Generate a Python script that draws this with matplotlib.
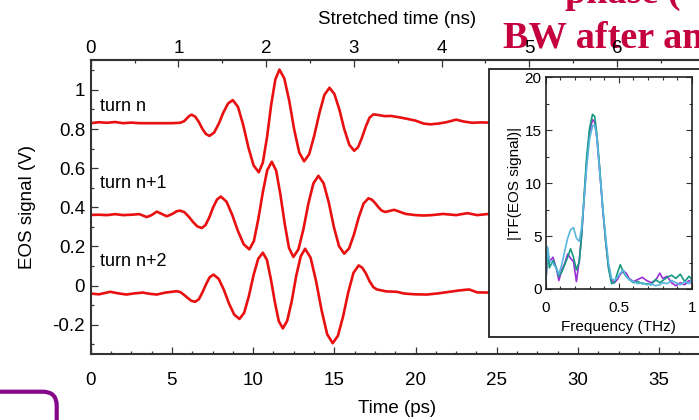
import numpy as np
import matplotlib.pyplot as plt
from matplotlib.patches import Rectangle, FancyBboxPatch
from matplotlib.ticker import MultipleLocator
from matplotlib.transforms import IdentityTransform

plt.rcParams['font.family'] = ['Liberation Sans', 'DejaVu Sans']

# EOS traces for three consecutive turns: time (ps) and signal (V)
t_turn_n = [0, 0.5, 1.0, 1.5, 2.0, 2.5, 3.0, 3.5, 4.0, 4.5, 5.0, 5.5, 5.75, 5.95, 6.1, 6.22,
            6.44, 6.66, 6.87, 7.09, 7.31, 7.60, 7.89, 8.17, 8.46, 8.75, 9.07, 9.39, 9.71,
            10.03, 10.35, 10.60, 10.86, 11.11, 11.37, 11.62, 11.92, 12.23, 12.53, 12.84,
            13.14, 13.45, 13.76, 14.08, 14.39, 14.70, 15.0, 15.31, 15.61, 15.92, 16.22, 16.46,
            16.69, 16.93, 17.16, 17.4, 17.7, 18.1, 18.5, 19.0, 19.5, 20.0, 20.5, 20.9, 21.4,
            21.9, 22.5, 23.0, 23.5, 24.0, 24.5, 25.0, 25.5]
v_turn_n = [0.83, 0.835, 0.832, 0.836, 0.83, 0.833, 0.83, 0.83, 0.83, 0.83, 0.83, 0.832,
            0.84, 0.857, 0.869, 0.873, 0.863, 0.836, 0.802, 0.775, 0.765, 0.782, 0.828, 0.885,
            0.931, 0.948, 0.913, 0.821, 0.706, 0.614, 0.579, 0.629, 0.76, 0.923, 1.054, 1.104,
            1.059, 0.942, 0.797, 0.68, 0.635, 0.671, 0.765, 0.881, 0.975, 1.011, 0.98, 0.9,
            0.8, 0.72, 0.689, 0.707, 0.753, 0.811, 0.857, 0.875, 0.872, 0.866, 0.867, 0.86,
            0.852, 0.843, 0.828, 0.824, 0.828, 0.835, 0.848, 0.838, 0.832, 0.834, 0.833,
            0.83, 0.83]

t_turn_n1 = [0, 0.5, 1.0, 1.5, 2.0, 2.5, 3.0, 3.45, 3.75, 4.07, 4.4, 4.68, 5.0, 5.3, 5.5,
             5.77, 6.04, 6.30, 6.57, 6.84, 7.07, 7.31, 7.54, 7.78, 8.01, 8.36, 8.71, 9.07,
             9.42, 9.77, 10.05, 10.32, 10.6, 10.87, 11.15, 11.42, 11.68, 11.95, 12.21, 12.48,
             12.79, 13.10, 13.40, 13.71, 14.02, 14.34, 14.66, 14.97, 15.29, 15.61, 15.91,
             16.21, 16.50, 16.80, 17.1, 17.31, 17.51, 17.72, 17.92, 18.13, 18.69, 19.4, 20.0,
             20.5, 21.0, 21.7, 22.5, 23.2, 23.8, 24.5, 25.0, 25.5]
v_turn_n1 = [0.361, 0.362, 0.36, 0.365, 0.36, 0.362, 0.365, 0.35, 0.36, 0.378, 0.365, 0.354,
             0.365, 0.38, 0.383, 0.375, 0.352, 0.325, 0.302, 0.294, 0.309, 0.35, 0.4, 0.44,
             0.455, 0.429, 0.362, 0.278, 0.211, 0.185, 0.228, 0.34, 0.478, 0.59, 0.633, 0.587,
             0.465, 0.314, 0.192, 0.146, 0.185, 0.289, 0.418, 0.522, 0.561, 0.523, 0.424, 0.3,
             0.201, 0.163, 0.19, 0.261, 0.348, 0.419, 0.446, 0.439, 0.422, 0.4, 0.383, 0.376,
             0.387, 0.366, 0.36, 0.358, 0.36, 0.366, 0.36, 0.37, 0.36, 0.366, 0.363, 0.363]

t_turn_n2 = [0, 0.5, 1.2, 1.7, 2.2, 2.7, 3.2, 3.6, 4.07, 4.6, 5.3, 5.53, 5.75, 5.98, 6.2,
             6.43, 6.66, 6.88, 7.11, 7.33, 7.56, 7.88, 8.2, 8.52, 8.84, 9.16, 9.45, 9.74,
             10.02, 10.31, 10.6, 10.85, 11.09, 11.34, 11.58, 11.83, 12.10, 12.38, 12.65, 12.93,
             13.2, 13.54, 13.88, 14.22, 14.56, 14.9, 15.22, 15.54, 15.86, 16.18, 16.5, 16.72,
             16.95, 17.17, 17.4, 17.62, 18.2, 18.85, 19.3, 20.0, 20.7, 21.4, 22.1, 22.7, 23.3,
             23.8, 24.5, 25.0, 25.5]
v_turn_n2 = [-0.041, -0.045, -0.032, -0.04, -0.046, -0.04, -0.036, -0.042, -0.046, -0.036,
             -0.029, -0.034, -0.048, -0.064, -0.078, -0.083, -0.07, -0.035, 0.008, 0.043,
             0.056, 0.034, -0.022, -0.093, -0.149, -0.171, -0.139, -0.054, 0.051, 0.136,
             0.168, 0.131, 0.034, -0.085, -0.182, -0.219, -0.18, -0.079, 0.048, 0.149, 0.188,
             0.142, 0.021, -0.128, -0.249, -0.295, -0.257, -0.158, -0.034, 0.065, 0.103,
             0.091, 0.061, 0.022, -0.008, -0.02, -0.03, -0.032, -0.041, -0.045, -0.046,
             -0.04, -0.032, -0.025, -0.02, -0.035, -0.036, -0.033, -0.033]

turn_labels = ['turn n', 'turn n+1', 'turn n+2']
label_y = [0.916, 0.524, 0.122]

# spectrum magnitude of each trace, frequency in THz
freq = [0, 0.0125, 0.025, 0.05, 0.075, 0.09, 0.11, 0.13, 0.15, 0.17, 0.19, 0.21, 0.23, 0.245,
        0.26, 0.28, 0.3, 0.32, 0.335, 0.35, 0.37, 0.39, 0.41, 0.43, 0.45, 0.47, 0.49, 0.51,
        0.53, 0.55, 0.57, 0.6, 0.63, 0.66, 0.69, 0.72, 0.75, 0.78, 0.8, 0.83, 0.86, 0.89,
        0.92, 0.95, 0.98, 1.0]
tf_purple = [0.3, 3.5, 2.6, 3.0, 1.8, 0.8, 1.8, 2.4, 3.3, 2.9, 2.6, 0.7, 2.8, 5.0, 8.0, 12.0,
             14.8, 16.0, 15.8, 14.2, 11.0, 7.5, 4.5, 2.0, 0.8, 0.6, 0.9, 1.4, 1.7, 1.5, 1.0, 0.7,
             0.9, 1.1, 0.8, 0.6, 0.8, 1.5, 1.0, 1.2, 0.6, 0.3, 0.6, 0.4, 0.8, 0.5]
tf_green = [0.3, 3.8, 2.0, 2.7, 1.9, 1.2, 1.6, 2.3, 3.0, 3.8, 3.0, 1.8, 2.6, 5.0, 8.3, 12.5,
            15.2, 16.5, 16.3, 14.6, 11.3, 7.7, 4.5, 1.9, 0.5, 0.6, 1.5, 2.3, 1.6, 1.2, 0.9, 0.6,
            0.7, 0.5, 0.5, 0.4, 0.9, 0.6, 0.8, 1.1, 1.3, 1.0, 1.4, 0.7, 1.2, 0.9]
tf_blue = [0.3, 4.0, 2.7, 2.4, 1.9, 1.4, 2.3, 3.6, 4.8, 5.6, 5.8, 4.8, 4.5, 5.8, 8.0, 11.5,
           14.2, 15.4, 15.5, 14.3, 11.0, 7.7, 4.9, 2.4, 1.0, 0.8, 1.1, 1.5, 1.8, 1.2, 0.9, 0.7,
           0.5, 0.6, 0.4, 0.5, 0.3, 0.4, 0.6, 0.5, 0.8, 0.6, 0.4, 0.7, 0.5, 1.0]

PS_PER_NS = 5.4
red = '#e81010'
spine_col = '#333333'

fig = plt.figure(figsize=(6.99, 4.2), dpi=100)

# slide title behind the plot
title_col = '#c4003f'
serif = ['Liberation Serif', 'DejaVu Serif']
fig.text(565 / 699, 1 - 3 / 420, 'phase (', fontsize=27.5, fontweight='bold', family=serif,
         color=title_col, ha='left', va='baseline', zorder=-1)
fig.text(503 / 699, 1 - 47 / 420, 'BW after an', fontsize=27.5, fontweight='bold', family=serif,
         color=title_col, ha='left', va='baseline', zorder=-1)

ax = fig.add_axes([90.7 / 699, 1 - 354 / 420, (703 - 90.7) / 699, 294 / 420])
for t, v in [(t_turn_n, v_turn_n), (t_turn_n1, v_turn_n1), (t_turn_n2, v_turn_n2)]:
    ax.plot(t, v, color=red, lw=1.9, solid_joinstyle='round')
for lab, y in zip(turn_labels, label_y):
    ax.text(0.57, y, lab, fontsize=13, ha='left', va='center')

ax.set_xlim(0, 37.7)
ax.set_ylim(-0.35, 1.153)
ax.xaxis.set_major_locator(MultipleLocator(5))
ax.xaxis.set_minor_locator(MultipleLocator(1.25))
ax.yaxis.set_minor_locator(MultipleLocator(0.1))
ax.set_yticks([-0.2, 0, 0.2, 0.4, 0.6, 0.8, 1.0])
ax.set_yticklabels(['-0.2', '0', '0.2', '0.4', '0.6', '0.8', '1'])
ax.tick_params(which='both', direction='in', labelsize=13.5, width=0.9, color=spine_col)
ax.tick_params(which='major', length=5)
ax.tick_params(which='minor', length=2.5)
ax.tick_params(axis='x', pad=13)
ax.tick_params(axis='y', pad=4)
for s in ax.spines.values():
    s.set_linewidth(1.5)
    s.set_color(spine_col)
ax.set_xlabel('Time (ps)', fontsize=13.5, labelpad=8)
ax.set_ylabel('EOS signal (V)', fontsize=13.5, labelpad=12)

# stretched time scale on top
top = ax.secondary_xaxis('top', functions=(lambda x: x / PS_PER_NS, lambda x: x * PS_PER_NS))
top.xaxis.set_major_locator(MultipleLocator(1))
top.xaxis.set_minor_locator(MultipleLocator(0.5))
top.tick_params(which='both', direction='in', labelsize=13.5, width=0.9, color=spine_col, pad=2)
top.tick_params(which='major', length=5)
top.tick_params(which='minor', length=2.5)
top.spines['top'].set_linewidth(1.5)
top.spines['top'].set_color(spine_col)
top.set_xlabel('Stretched time (ns)', fontsize=13.5, labelpad=12)

# framed inset with the spectra
fig.patches.append(Rectangle((489 / 699, 1 - 337 / 420), 0.4, (337 - 69) / 420,
                             transform=fig.transFigure, facecolor='white',
                             edgecolor='#222222', lw=1.3, zorder=1))
ins = fig.add_axes([545.7 / 699, 1 - 289 / 420, (692 - 545.7) / 699, (289 - 77.3) / 420])
ins.set_zorder(2)
ins.plot(freq, tf_purple, color='#9b2fd6', lw=1.2)
ins.plot(freq, tf_green, color='#159a80', lw=1.2)
ins.plot(freq, tf_blue, color='#58b6e0', lw=1.2)
ins.set_xlim(0, 1)
ins.set_ylim(0, 20)
ins.xaxis.set_minor_locator(MultipleLocator(0.1))
ins.yaxis.set_major_locator(MultipleLocator(5))
ins.yaxis.set_minor_locator(MultipleLocator(2.5))
ins.set_xticks([0, 0.5, 1])
ins.set_xticklabels(['0', '0.5', '1'])
ins.tick_params(which='both', direction='in', top=True, right=True, labelsize=11,
                width=0.8, color=spine_col)
ins.tick_params(which='major', length=4)
ins.tick_params(which='minor', length=2)
ins.tick_params(axis='x', pad=9)
ins.tick_params(axis='y', pad=3)
for s in ins.spines.values():
    s.set_linewidth(1.2)
    s.set_color('#222222')
ins.set_xlabel('Frequency (THz)', fontsize=11, labelpad=3)
ins.set_ylabel('|TF(EOS signal)|', fontsize=11, labelpad=2)

# purple rounded frame in the lower left corner
fig.patches.append(FancyBboxPatch((-60, -40), 116.7, 68.3,
                                  boxstyle='round,pad=0,rounding_size=14',
                                  transform=IdentityTransform(), facecolor='none',
                                  edgecolor='#85088a', lw=3, zorder=3))

fig.savefig('out.png', dpi=100)
